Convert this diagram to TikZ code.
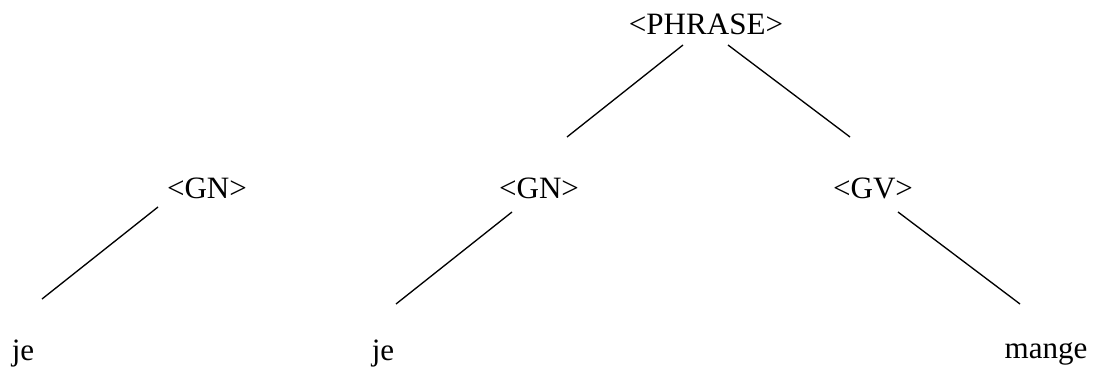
\documentclass[tikz,border=0pt]{standalone}
\usepackage{fontspec}
\setmainfont{Liberation Serif}
\usepackage{tikz}
\usetikzlibrary{positioning}

\begin{document}
\begin{tikzpicture}[x=0.75pt, y=-0.75pt,
  word/.style={anchor=base, inner sep=0pt, font=\fontsize{23.3}{28}\selectfont},
  branch/.style={line width=1pt}]
\useasboundingbox (0,0) rectangle (1098,367);
% left tree
\node[word] (gnA) at (207,198) {<GN>};
\node[word] (jeA) at (23,360) {je};
% right tree
\node[word] (phrase) at (706,35) {<PHRASE>};
\node[word] (gnB) at (539,198) {<GN>};
\node[word] (gv) at (873,198) {<GV>};
\node[word] (jeB) at (383,360) {je};
\node[word] (mange) at (1046,358) {mange};
% branches
\draw[branch] ([shift={(-49,9)}]gnA.base) -- ([shift={(19,-61)}]jeA.base);
\draw[branch] ([shift={(-23,10)}]phrase.base) -- ([shift={(28,-61)}]gnB.base);
\draw[branch] ([shift={(22,10)}]phrase.base) -- ([shift={(-23,-61)}]gv.base);
\draw[branch] ([shift={(-27,14)}]gnB.base) -- ([shift={(13,-56)}]jeB.base);
\draw[branch] ([shift={(25,14)}]gv.base) -- ([shift={(-26,-54)}]mange.base);
\end{tikzpicture}
\end{document}
